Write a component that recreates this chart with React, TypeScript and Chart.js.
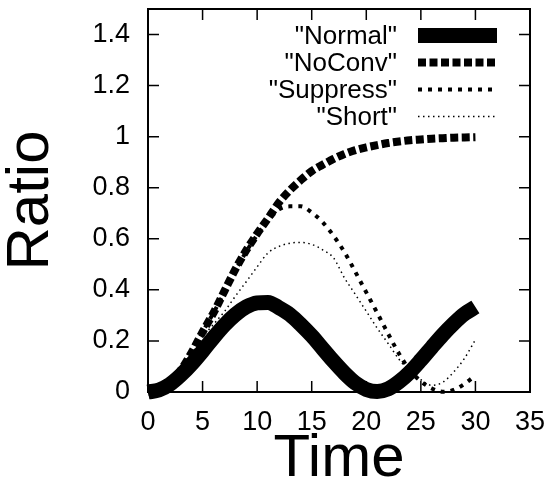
import React, { useEffect, useRef } from "react";
import { Chart, registerables } from "chart.js";

Chart.register(...registerables);

const times = [0, 1, 2, 3, 4, 5, 6, 7, 8, 9, 10, 11, 12, 13, 14, 15, 16, 17, 18, 19, 20, 21, 22, 23, 24, 25, 26, 27, 28, 29, 30];

const normalValues = [0, 0.008, 0.03, 0.066, 0.11, 0.16, 0.213, 0.262, 0.303, 0.333, 0.349, 0.351, 0.33, 0.303, 0.264, 0.22, 0.17, 0.12, 0.074, 0.035, 0.01, 0.002, 0.012, 0.04, 0.078, 0.125, 0.175, 0.224, 0.268, 0.306, 0.333];

const noConvValues = [0, 0.008, 0.035, 0.085, 0.155, 0.235, 0.31, 0.395, 0.48, 0.555, 0.62, 0.68, 0.742, 0.79, 0.83, 0.865, 0.89, 0.913, 0.932, 0.947, 0.958, 0.967, 0.975, 0.981, 0.986, 0.989, 0.992, 0.994, 0.996, 0.997, 0.998];

const suppressValues = [0, 0.008, 0.035, 0.085, 0.155, 0.235, 0.31, 0.39, 0.475, 0.55, 0.615, 0.67, 0.715, 0.727, 0.727, 0.703, 0.665, 0.612, 0.548, 0.47, 0.39, 0.31, 0.228, 0.15, 0.085, 0.042, 0.014, 0.001, 0.008, 0.032, 0.065];

const shortValues = [0, 0.008, 0.035, 0.085, 0.15, 0.215, 0.265, 0.315, 0.375, 0.432, 0.49, 0.545, 0.57, 0.583, 0.586, 0.578, 0.557, 0.525, 0.447, 0.382, 0.316, 0.25, 0.19, 0.128, 0.08, 0.048, 0.026, 0.038, 0.078, 0.132, 0.205];

const seriesLabels = ['"Normal"', '"NoConv"', '"Suppress"', '"Short"'];

const xTickValues = [0, 5, 10, 15, 20, 25, 30, 35];
const xTickLabels = ["0", "5", "10", "15", "20", "25", "30", "35"];
const yTickValues = [0, 0.2, 0.4, 0.6, 0.8, 1, 1.2, 1.4];
const yTickLabels = ["0", "0.2", "0.4", "0.6", "0.8", "1", "1.2", "1.4"];

const xTitle = "Time";
const yTitle = "Ratio";

const FONT = "'Liberation Sans', Arial, Helvetica, sans-serif";

const toPoints = (vals: number[]) => vals.map((v, i) => ({ x: times[i], y: v }));

const framePlugin = {
  id: "gpFrame",
  beforeDatasetsDraw(chart: any) {
    const { ctx, chartArea, scales } = chart;
    const { left, right, top, bottom } = chartArea;
    const tl = 11;
    ctx.save();
    ctx.strokeStyle = "#000";
    ctx.lineWidth = 2;
    ctx.strokeRect(left, top, right - left, bottom - top);
    ctx.lineWidth = 1.5;
    ctx.beginPath();
    for (const v of xTickValues) {
      const px = scales.x.getPixelForValue(v);
      if (px <= left + 1 || px >= right - 1) continue;
      ctx.moveTo(px, bottom);
      ctx.lineTo(px, bottom - tl);
      ctx.moveTo(px, top);
      ctx.lineTo(px, top + tl);
    }
    for (const v of yTickValues) {
      const py = scales.y.getPixelForValue(v);
      if (py >= bottom - 1 || py <= top + 1) continue;
      ctx.moveTo(left, py);
      ctx.lineTo(left + tl, py);
      ctx.moveTo(right, py);
      ctx.lineTo(right - tl, py);
    }
    ctx.stroke();
    ctx.restore();
  },
};

const legendPlugin = {
  id: "gpLegend",
  afterDatasetsDraw(chart: any) {
    const { ctx, chartArea } = chart;
    const textRight = chartArea.right - 133;
    const sx0 = chartArea.right - 112;
    const sx1 = chartArea.right - 33;
    const y0 = chartArea.top + 26.5;
    const dy = 27;
    chart.data.datasets.forEach((ds: any, i: number) => {
      const cy = y0 + i * dy;
      ctx.save();
      ctx.font = `26px ${FONT}`;
      ctx.fillStyle = "#000";
      ctx.textAlign = "right";
      ctx.textBaseline = "middle";
      ctx.fillText(ds.label, textRight, cy + 1);
      ctx.strokeStyle = "#000";
      ctx.lineWidth = ds.borderWidth;
      ctx.lineCap = "butt";
      ctx.setLineDash(ds.borderDash || []);
      ctx.beginPath();
      ctx.moveTo(sx0, cy);
      ctx.lineTo(sx1, cy);
      ctx.stroke();
      ctx.restore();
    });
  },
};

export default function App() {
  const ref = useRef<HTMLCanvasElement | null>(null);

  useEffect(() => {
    if (!ref.current) return;
    const common = {
      borderColor: "#000",
      backgroundColor: "#000",
      pointRadius: 0,
      fill: false,
      cubicInterpolationMode: "monotone" as const,
      borderCapStyle: "butt" as const,
      clip: false as const,
    };
    const chart = new Chart(ref.current, {
      type: "line",
      data: {
        datasets: [
          { ...common, label: seriesLabels[0], data: toPoints(normalValues), borderWidth: 15, borderDash: [] },
          { ...common, label: seriesLabels[1], data: toPoints(noConvValues), borderWidth: 8, borderDash: [8, 3.5] },
          { ...common, label: seriesLabels[2], data: toPoints(suppressValues), borderWidth: 4, borderDash: [4, 6] },
          { ...common, label: seriesLabels[3], data: toPoints(shortValues), borderWidth: 1.5, borderDash: [1.5, 3.5] },
        ],
      },
      options: {
        animation: false,
        responsive: false,
        devicePixelRatio: 1,
        layout: { padding: { left: 0, top: 9, right: 22, bottom: 0 } },
        plugins: {
          legend: { display: false },
          tooltip: { enabled: false },
        },
        scales: {
          x: {
            type: "linear",
            min: 0,
            max: 35,
            grid: { display: false, drawTicks: false, tickLength: 0 },
            border: { display: false },
            afterBuildTicks: (scale: any) => {
              scale.ticks = xTickValues.map((v) => ({ value: v }));
            },
            afterFit: (scale: any) => {
              scale.height = 91;
              scale.paddingLeft = 0;
              scale.paddingRight = 0;
            },
            ticks: {
              padding: 14,
              color: "#000",
              maxRotation: 0,
              autoSkip: false,
              font: { family: FONT, size: 27 },
              callback: (v: any) => xTickLabels[xTickValues.indexOf(Number(v))] ?? "",
            },
            title: {
              display: true,
              text: xTitle,
              color: "#000",
              font: { family: FONT, size: 60, lineHeight: 0.8 },
              padding: { top: 0, bottom: 0 },
            },
          },
          y: {
            type: "linear",
            min: 0,
            max: 1.5,
            grid: { display: false, drawTicks: false, tickLength: 0 },
            border: { display: false },
            afterBuildTicks: (scale: any) => {
              scale.ticks = yTickValues.map((v) => ({ value: v }));
            },
            afterFit: (scale: any) => {
              scale.width = 148;
              scale.paddingTop = 0;
              scale.paddingBottom = 0;
            },
            ticks: {
              padding: 18,
              color: "#000",
              autoSkip: false,
              font: { family: FONT, size: 27 },
              callback: (v: any) => {
                const idx = yTickValues.findIndex((t) => Math.abs(t - Number(v)) < 1e-9);
                return idx >= 0 ? yTickLabels[idx] : "";
              },
            },
            title: {
              display: true,
              text: yTitle,
              color: "#000",
              font: { family: FONT, size: 60, lineHeight: 1 },
              padding: { top: 1.5, bottom: 0 },
            },
          },
        },
      },
      plugins: [framePlugin, legendPlugin],
    });
    return () => chart.destroy();
  }, []);

  return (
    <div style={{ position: "fixed", left: 0, top: 0, width: 552, height: 483, background: "#fff" }}>
      <canvas ref={ref} width={552} height={483} style={{ display: "block", width: 552, height: 483 }} />
    </div>
  );
}
